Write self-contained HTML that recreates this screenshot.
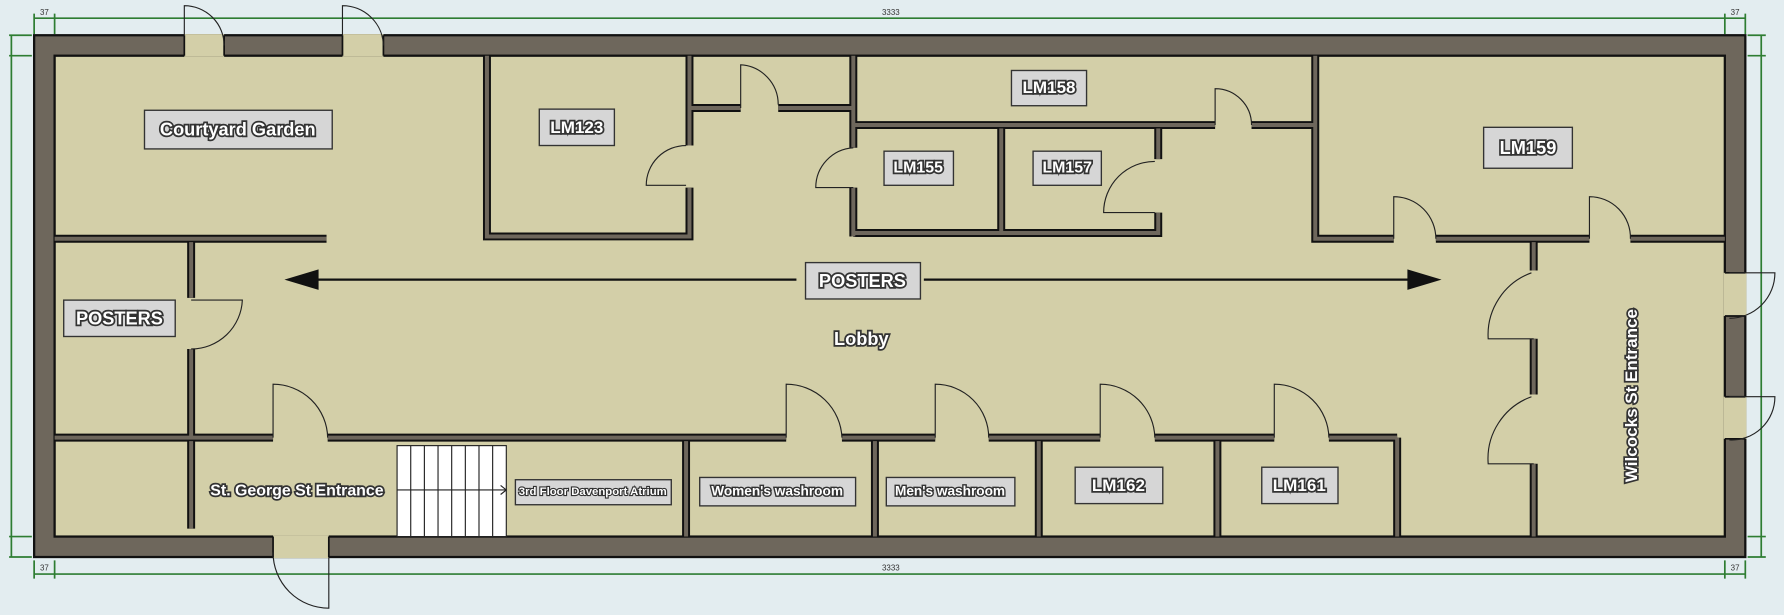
<!DOCTYPE html>
<html><head><meta charset="utf-8"><style>
html,body{margin:0;padding:0;background:#e3edf0;}
svg{display:block}
.lbl{font-family:"Liberation Sans",sans-serif;font-weight:bold;fill:#fff;stroke:#333;stroke-width:3;paint-order:stroke;text-anchor:middle;dominant-baseline:central}
.box{fill:#d6d6d6;stroke:#333;stroke-width:1.2}
.door{fill:none;stroke:#222;stroke-width:1}
.dim{stroke:#2e7d32;stroke-width:1.5;fill:none}
.dt{font-family:"Liberation Sans",sans-serif;font-size:7px;fill:#333;text-anchor:middle}
</style></head><body>
<svg width="1784" height="615" viewBox="0 0 1568 541" preserveAspectRatio="none">
<rect width="1568" height="541" fill="#e3edf0"/>
<!-- dimensions -->
<g class="dim">
<path d="M30 16H1534 M30 12V30 M48 12V30 M1516 12V30 M1534 12V30"/>
<path d="M30 505H1534 M30 493V509 M48 493V509 M1516 493V509 M1534 493V509"/>
<path d="M10 31V490 M8 31H28 M8 49H28 M8 472H28 M8 490H28"/>
<path d="M1548 31V490 M1536 31H1552 M1536 49H1552 M1536 472H1552 M1536 490H1552"/>
</g>
<text class="dt" x="39" y="13">37</text><text class="dt" x="783" y="13">3333</text><text class="dt" x="1525" y="13">37</text>
<text class="dt" x="39" y="502">37</text><text class="dt" x="783" y="502">3333</text><text class="dt" x="1525" y="502">37</text>
<!-- outer -->
<rect x="30" y="31" width="1504" height="459" fill="#6e675c" stroke="#111" stroke-width="2"/>
<rect x="48" y="49" width="1468" height="423" fill="#d3cfa8" stroke="#111" stroke-width="2"/>
<!-- gaps -->
<g fill="#d3cfa8">
<rect x="162" y="30" width="35" height="20"/><rect x="301" y="30" width="36" height="20"/>
<rect x="240" y="471" width="49" height="20"/>
<rect x="1515" y="240" width="20" height="38"/><rect x="1515" y="349" width="20" height="37"/>
</g>
<g fill="none" stroke="#111" stroke-width="1.5">
<path d="M162 31V49 M197 31V49 M301 31V49 M337 31V49 M240 472V490 M289 472V490 M1516 240H1534 M1516 278H1534 M1516 349H1534 M1516 386H1534"/>
</g>
<!-- interior walls -->
<g id="w" fill="none" stroke-linecap="square">
<path id="wp" d="M48 210H287 M168 213V262 M168 307V385 M48 385H240 M288 385H691 M740 385H822 M869 385H967 M1015 385H1120 M1168 385H1228 M168 388V465 M603 388V472 M769 388V472 M913 388V472 M1070 388V472 M1228 385V472 M1348 213V238 M1348 298V347 M1348 408V472 M1156 49V210H1225 M1262 210H1397 M1433 210H1516 M428 49V208H606V165 M606 128V49 M606 95H651 M684 95H750 M750 49V130 M750 165V208 M750 110H1068 M1100 110H1156 M750 205H1018V187 M1018 140V113 M880 113V205"/>
</g>
<use href="#wp" stroke="#111" stroke-width="7" fill="none"/>
<use href="#wp" stroke="#6e675c" stroke-width="3.5" fill="none"/>
<!-- stairs -->
<rect x="349" y="392" width="96" height="80" fill="#fff" stroke="#222"/>
<path d="M361 392V472 M373 392V472 M385 392V472 M397 392V472 M409 392V472 M421 392V472 M433 392V472 M349 431H445 M440 427L445 431L440 435" stroke="#222" stroke-width="1" fill="none"/>
<!-- doors -->
<g class="door">
<path d="M162 31V5 A35 35 0 0 1 197 40"/>
<path d="M301 31V5 A36 36 0 0 1 337 40"/>
<path d="M168 264H213 A45 45 0 0 1 168 307"/>
<path d="M240 385V338 A48 48 0 0 1 288 385"/>
<path d="M691 385V338 A49 49 0 0 1 740 385"/>
<path d="M822 385V338 A47 47 0 0 1 869 385"/>
<path d="M967 385V338 A48 48 0 0 1 1015 385"/>
<path d="M1120 385V338 A48 48 0 0 1 1168 385"/>
<path d="M289 490V535 A49 49 0 0 1 240 486"/>
<path d="M603 163H568 A35 35 0 0 1 603 128"/>
<path d="M651 95V57 A35 35 0 0 1 684 92"/>
<path d="M750 165H717 A35 35 0 0 1 750 130"/>
<path d="M1068 110V78 A32 32 0 0 1 1100 110"/>
<path d="M1015 187H970 A45 45 0 0 1 1015 142"/>
<path d="M1225 210V173 A37 37 0 0 1 1262 210"/>
<path d="M1397 210V173 A36 36 0 0 1 1433 210"/>
<path d="M1348 298H1308 A58 58 0 0 1 1346 240"/>
<path d="M1348 408H1308 A58 58 0 0 1 1346 349"/>
<path d="M1520 240H1560 A40 40 0 0 1 1520 280"/>
<path d="M1520 349H1560 A38 38 0 0 1 1520 387"/>
</g>
<!-- arrows -->
<path d="M272 246H700 M812 246H1245" stroke="#111" stroke-width="2"/>
<path d="M250 246L280 237V255Z M1267 246L1237 237V255Z" fill="#111"/>
<!-- labels -->
<rect class="box" x="127" y="97" width="165" height="34"/><text class="lbl" x="209" y="114" font-size="16">Courtyard Garden</text>
<rect class="box" x="474" y="96" width="66" height="32"/><text class="lbl" x="507" y="112" font-size="15">LM123</text>
<rect class="box" x="889" y="62" width="66" height="31"/><text class="lbl" x="922" y="77" font-size="15">LM158</text>
<rect class="box" x="777" y="133" width="61" height="30"/><text class="lbl" x="807" y="148" font-size="14">LM155</text>
<rect class="box" x="908" y="133" width="60" height="30"/><text class="lbl" x="938" y="148" font-size="14">LM157</text>
<rect class="box" x="1304" y="112" width="78" height="36"/><text class="lbl" x="1343" y="130" font-size="16">LM159</text>
<rect class="box" x="708" y="231" width="101" height="32"/><text class="lbl" x="758" y="247" font-size="16">POSTERS</text>
<rect class="box" x="56" y="264" width="98" height="32"/><text class="lbl" x="105" y="280" font-size="16">POSTERS</text>
<text class="lbl" x="757" y="298" font-size="16">Lobby</text>
<text class="lbl" x="261" y="432" font-size="14">St. George St Entrance</text>
<rect class="box" x="453" y="422" width="137" height="22"/><text class="lbl" x="521" y="433" font-size="10" style="stroke-width:2">3rd Floor Davenport Atrium</text>
<rect class="box" x="615" y="420" width="137" height="25"/><text class="lbl" x="683" y="432" font-size="12" style="stroke-width:2.5">Women's washroom</text>
<rect class="box" x="779" y="420" width="113" height="25"/><text class="lbl" x="835" y="432" font-size="12" style="stroke-width:2.5">Men's washroom</text>
<rect class="box" x="945" y="411" width="77" height="32"/><text class="lbl" x="983" y="427" font-size="15">LM162</text>
<rect class="box" x="1109" y="411" width="67" height="32"/><text class="lbl" x="1142" y="427" font-size="15">LM161</text>
<text class="lbl" x="0" y="0" font-size="15" transform="translate(1434 348) rotate(-90)">Wilcocks St Entrance</text>
</svg>
</body></html>
